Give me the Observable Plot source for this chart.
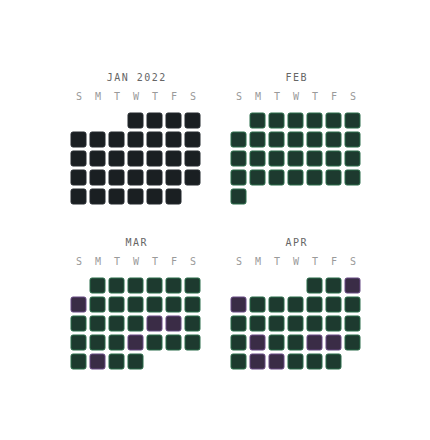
<!DOCTYPE html>
<html>
<head>
<meta charset="utf-8">
<script src="https://cdn.jsdelivr.net/npm/d3@7"></script>
<script src="https://cdn.jsdelivr.net/npm/@observablehq/plot@0.6"></script>
<style>
  html, body { margin: 0; padding: 0; background: #fff; }
  #chart svg text { letter-spacing: 1.5px; }
</style>
</head>
<body>
<div id="chart"></div>
<script>
// ---- data ----
const months = ["JAN 2022", "FEB", "MAR", "APR"];
const monthStart = [3, 1, 1, 4];        // weekday column of day 1 (0 = Sunday)
const monthDays = [31, 28, 31, 30];
const monthBase = ["empty", "done", "done", "done"];
const missedDays = [[], [], [7, 18, 19, 24, 29], [3, 4, 19, 22, 23, 26, 27]];
const weekdays = ["S", "M", "T", "W", "T", "F", "S"];
const statuses = ["empty", "done", "missed"];

// ---- styles ----
const fillFor = {empty: "#1a1f22", done: "#1d3a2f", missed: "#3a2c46"};
const strokeFor = {empty: "#23292d", done: "#2b6c4a", missed: "#674a83"};

// ---- build tables ----
const cells = [];
months.forEach((m, i) => {
  for (let d = 1; d <= monthDays[i]; d++) {
    const p = monthStart[i] + d - 1;
    cells.push({
      month: m, day: d,
      x: p % 7, y: Math.floor(p / 7),
      fx: i % 2, fy: Math.floor(i / 2),
      status: missedDays[i].includes(d) ? "missed" : monthBase[i]
    });
  }
});
const titles = months.map((m, i) => ({label: m, x: 3, y: -2, fx: i % 2, fy: Math.floor(i / 2)}));
const dayLabels = [];
months.forEach((m, i) => weekdays.forEach((w, j) =>
  dayLabels.push({label: w, x: j, y: -1, fx: i % 2, fy: Math.floor(i / 2)})));

const chart = Plot.plot({
  width: 430,
  height: 440,
  marginLeft: 68.5,
  marginRight: 68.5,
  marginTop: 72.5,
  marginBottom: 69,
  style: {fontFamily: "'DejaVu Sans Mono', monospace", background: "#fff"},
  fx: {domain: [0, 1], paddingInner: 27 / 160, paddingOuter: 0, axis: null},
  fy: {domain: [0, 1], paddingInner: 32.5 / 165.5, paddingOuter: 0, axis: null},
  x: {type: "band", domain: d3.range(7), paddingInner: 3 / 19, paddingOuter: 1.5 / 19, axis: null},
  y: {type: "band", domain: d3.range(-2, 5), paddingInner: 3 / 19, paddingOuter: 1.5 / 19, axis: null},
  marks: [
    ...statuses.map(s => Plot.cell(cells.filter(c => c.status === s), {
      x: "x", y: "y", fx: "fx", fy: "fy",
      fill: fillFor[s], stroke: strokeFor[s], strokeWidth: 1,
      inset: 0.5, rx: 2
    })),
    Plot.text(titles, {x: "x", y: "y", fx: "fx", fy: "fy", text: "label",
      fill: "#666666", fontSize: 10, dy: -5, dx: 0.75}),
    Plot.text(dayLabels, {x: "x", y: "y", fx: "fx", fy: "fy", text: "label",
      fill: "#9a9a9a", fontSize: 10, dy: -5.5, dx: 0.75})
  ]
});
document.getElementById("chart").append(chart);
</script>
</body>
</html>
